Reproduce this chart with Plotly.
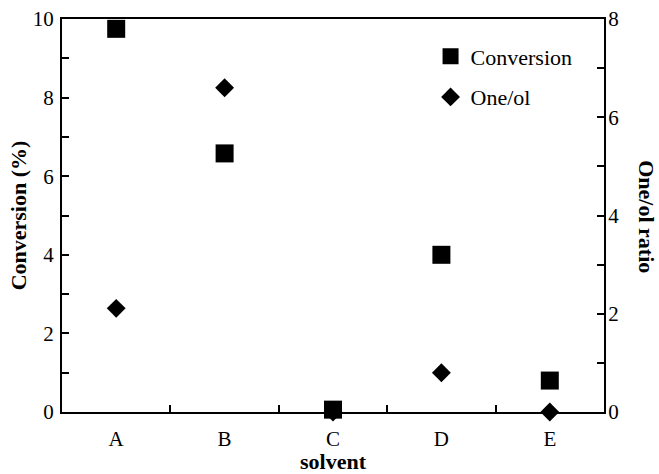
import plotly.graph_objects as go

solvents = ["A", "B", "C", "D", "E"]
conversion = [9.75, 6.58, 0.06, 4.0, 0.8]
one_ol = [2.11, 6.6, 0.0, 0.8, 0.0]

FONT = "Liberation Serif"

fig = go.Figure()
fig.add_trace(go.Scatter(
    x=solvents, y=one_ol, mode="markers", name="One/ol", yaxis="y2",
    marker=dict(symbol="diamond", size=14.5, color="black"),
    legendgroup="b", legendrank=2, cliponaxis=False,
))
fig.add_trace(go.Scatter(
    x=solvents, y=conversion, mode="markers", name="Conversion",
    marker=dict(symbol="square", size=18, color="black"),
    legendgroup="a", legendrank=1, cliponaxis=False,
))

fig.update_layout(
    width=659, height=474,
    margin=dict(l=62, r=55, t=19, b=62),
    paper_bgcolor="white", plot_bgcolor="white",
    font=dict(family=FONT, size=21, color="black"),
    showlegend=True,
    legend=dict(x=0.68, y=0.958, xanchor="left", yanchor="top",
                bgcolor="rgba(0,0,0,0)", font=dict(size=22, family=FONT),
                tracegroupgap=9, itemsizing="trace"),
    xaxis=dict(
        type="category", range=[-0.5, 4.5], automargin=False,
        showline=True, linecolor="black", linewidth=2, mirror=True,
        ticks="", showgrid=False, zeroline=False,
        tickfont=dict(size=21, family=FONT), ticklabelstandoff=7,
        minor=dict(tickvals=[0.5, 1.5, 2.5, 3.5], ticks="inside", ticklen=7,
                   tickwidth=1.5, tickcolor="black", showgrid=False),
        title=dict(text="<b>solvent</b>", font=dict(size=22, family=FONT), standoff=6),
    ),
    yaxis=dict(
        range=[0, 10], tickvals=[0, 2, 4, 6, 8, 10], automargin=False,
        showline=True, linecolor="black", linewidth=2,
        ticks="inside", ticklen=7, tickwidth=1.5, tickcolor="black",
        minor=dict(tickvals=[1, 3, 5, 7, 9], ticks="inside", ticklen=7,
                   tickwidth=1.5, tickcolor="black", showgrid=False),
        showgrid=False, zeroline=False,
        tickfont=dict(size=21, family=FONT), ticklabelstandoff=2,
        title=dict(text="<b>Conversion (%)</b>", font=dict(size=22, family=FONT), standoff=0),
    ),
    yaxis2=dict(
        range=[0, 8], tickvals=[0, 2, 4, 6, 8], overlaying="y", side="right",
        automargin=False,
        showline=True, linecolor="black", linewidth=2,
        ticks="inside", ticklen=7, tickwidth=1.5, tickcolor="black",
        minor=dict(tickvals=[1, 3, 5, 7], ticks="inside", ticklen=7,
                   tickwidth=1.5, tickcolor="black", showgrid=False),
        showgrid=False, zeroline=False,
        tickfont=dict(size=21, family=FONT), ticklabelstandoff=-2,
    ),
    annotations=[dict(
        text="<b>One/ol ratio</b>", textangle=90,
        xref="paper", yref="paper", x=1.079, y=0.496,
        xanchor="center", yanchor="middle", showarrow=False,
        font=dict(size=22, family=FONT),
    )],
)

fig.write_html("out.html")
